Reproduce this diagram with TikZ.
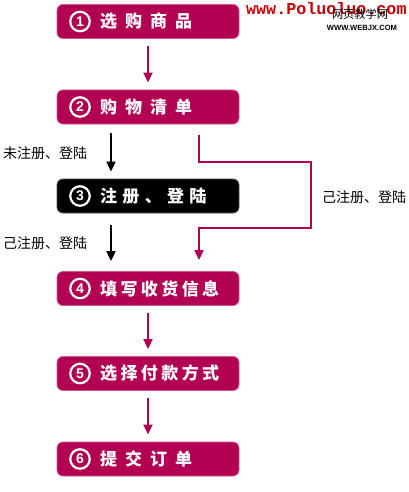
\documentclass[tikz,border=0pt]{standalone}
\usepackage{fontspec}
\newfontfamily\cjk{Noto Sans CJK SC}
\newfontfamily\monofnt{Liberation Mono}
\newfontfamily\sansfnt{Liberation Sans}
\usetikzlibrary{arrows.meta}
\definecolor{mag}{RGB}{178,0,82}
\definecolor{wmred}{RGB}{200,0,0}
\tikzset{
  stepbox/.style={rounded corners=6pt, fill=mag, draw=mag!65!white, line width=0.8pt,
    minimum width=182pt, minimum height=34pt, inner sep=0pt},
  blackbox/.style={stepbox, fill=black, draw=black!70},
  numcirc/.style={circle, draw=white, line width=2.2pt, minimum size=19.5pt, inner sep=0pt,
    text=white, font=\sansfnt\bfseries\fontsize{14}{14}\selectfont},
  steptext/.style={anchor=west, inner sep=0pt, text=white, font=\cjk\bfseries\fontsize{17}{17}\selectfont},
  lab/.style={anchor=west, inner sep=0pt, text=black, font=\cjk\fontsize{14}{14}\selectfont},
  magarrow/.style={draw=mag, line width=1.9pt, -{Triangle[width=9pt,length=10pt]}},
  blkarrow/.style={draw=black, line width=1.9pt, -{Triangle[width=9pt,length=10pt]}},
}
\begin{document}
\begin{tikzpicture}[x=1pt,y=1pt]
\useasboundingbox (0,0) rectangle (409,-492);
% boxes
\node[stepbox] (b1) at (148,-21.5) {};
\node[stepbox] (b2) at (148,-107) {};
\node[blackbox] (b3) at (148,-196) {};
\node[stepbox] (b4) at (148,-288.5) {};
\node[stepbox] (b5) at (148,-373.5) {};
\node[stepbox] (b6) at (148,-459) {};
% numbers
\node[numcirc] (n1) at (80,-21.5) {1};
\node[numcirc] (n2) at (80,-107) {2};
\node[numcirc] (n3) at (80,-196) {3};
\node[numcirc] (n4) at (80,-288.5) {4};
\node[numcirc] (n5) at (80,-373.5) {5};
\node[numcirc] (n6) at (80,-459) {6};
% texts
\node[steptext] (t1) at (100,-21.5) {选\hspace{8pt}购\hspace{8pt}商\hspace{8pt}品};
\node[steptext] (t2) at (100,-107) {购\hspace{8pt}物\hspace{8pt}清\hspace{8pt}单};
\node[steptext] (t3) at (100,-196) {注\hspace{5.3pt}册\hspace{5.3pt}、\hspace{5.3pt}登\hspace{5.3pt}陆};
\node[steptext] (t4) at (100,-288.5) {填\hspace{3.4pt}写\hspace{3.4pt}收\hspace{3.4pt}货\hspace{3.4pt}信\hspace{3.4pt}息};
\node[steptext] (t5) at (100,-373.5) {选\hspace{3.4pt}择\hspace{3.4pt}付\hspace{3.4pt}款\hspace{3.4pt}方\hspace{3.4pt}式};
\node[steptext] (t6) at (100,-459) {提\hspace{8pt}交\hspace{8pt}订\hspace{8pt}单};
% helper coordinates
\coordinate (xa) at (111,0);
\coordinate (xb) at (199,0);
\coordinate (r1) at (311,-162);
\coordinate (r2) at (311,-228);
% connectors
\draw[magarrow, shorten <=7pt, shorten >=7pt] (b1.south) -- (b2.north);
\draw[blkarrow, shorten <=9pt, shorten >=7pt] (b2.south -| xa) -- (b3.north -| xa);
\draw[blkarrow, shorten <=12pt, shorten >=10pt] (b3.south -| xa) -- (b4.north -| xa);
\draw[magarrow, shorten <=11pt, shorten >=11pt] (b2.south -| xb) |- (r1) -- (r2) -| (b4.north -| xb);
\draw[magarrow, shorten <=7pt, shorten >=7pt] (b4.south) -- (b5.north);
\draw[magarrow, shorten <=7pt, shorten >=7pt] (b5.south) -- (b6.north);
% labels
\node[lab] (l1) at (3,-153) {未注册、登陆};
\node[lab] (l2) at (3,-243) {己注册、登陆};
\node[lab] (l3) at (322,-197) {己注册、登陆};
% watermark
\node[anchor=base west, inner sep=0pt, text=wmred, font=\monofnt\bfseries\fontsize{16.7}{16.7}\selectfont] (w1) at (246,-15) {www.Poluoluo.com};
\node[inner sep=0pt, text=black, font=\cjk\fontsize{11.2}{11.2}\selectfont] (w2) at (360,-14) {网页教学网};
\node[inner sep=0pt, text=black, font=\sansfnt\bfseries\fontsize{7.6}{7.6}\selectfont] (w3) at (362,-28) {WWW.WEBJX.COM};
\end{tikzpicture}
\end{document}
